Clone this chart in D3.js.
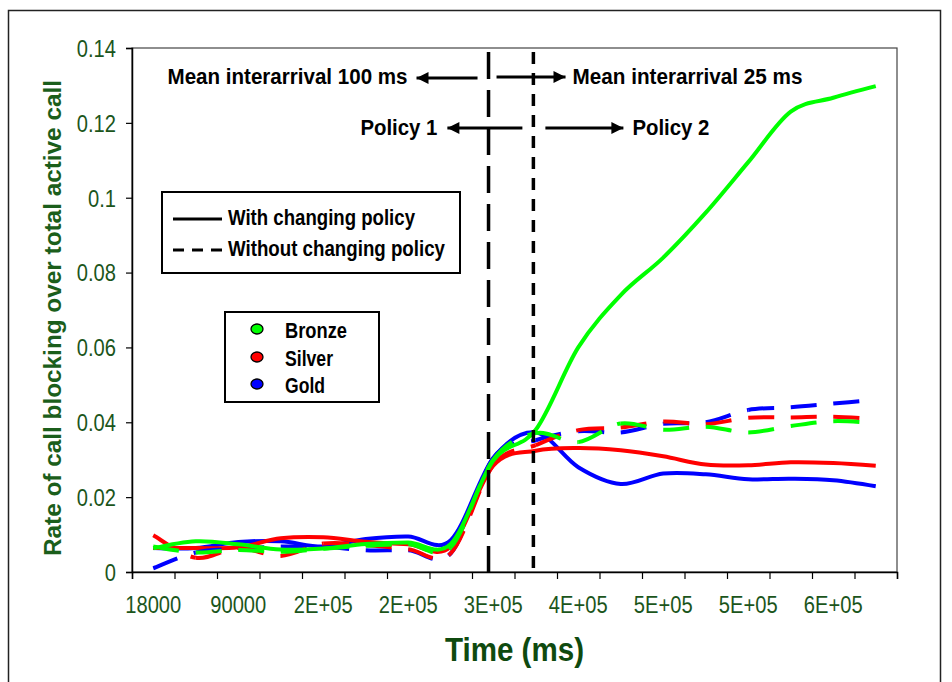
<!DOCTYPE html>
<html><head><meta charset="utf-8">
<script src="https://cdn.jsdelivr.net/npm/d3@7/dist/d3.min.js"></script>
<style>body{margin:0;background:#fff} svg{display:block}</style>
</head><body>
<svg id="c" width="952" height="682"></svg>
<script>
// ---------- data ----------
const times = [18000, 54000, 90000, 126000, 162000, 198000, 234000, 270000, 306000,
               342000, 378000, 414000, 450000, 486000, 522000, 558000, 594000, 630000];
const xTickLabels = ["18000","","90000","","2E+05","","2E+05","","3E+05","","4E+05","","5E+05","","5E+05","","6E+05",""];
const yTicks = [0, 0.02, 0.04, 0.06, 0.08, 0.1, 0.12, 0.14];

const bronzeWith    = [0.0063,0.0082,0.0074,0.0060,0.0063,0.0075,0.0079,0.0075,0.0298,0.0380,0.0600,0.0740,0.0840,0.0960,0.1095,0.1230,0.1267,0.1298];
const silverWith    = [0.0064,0.0064,0.0066,0.0090,0.0093,0.0081,0.0074,0.0068,0.0284,0.0324,0.0331,0.0325,0.0309,0.0287,0.0285,0.0293,0.0291,0.0284];
const goldWith      = [0.0064,0.0064,0.0080,0.0082,0.0068,0.0088,0.0095,0.0085,0.0304,0.0373,0.0280,0.0235,0.0263,0.0261,0.0248,0.0249,0.0245,0.0229];
const bronzeWithout = [0.0068,0.0052,0.0059,0.0054,0.0062,0.0070,0.0074,0.0066,0.0300,0.0371,0.0347,0.0397,0.0380,0.0388,0.0373,0.0390,0.0403,0.0398];
const silverWithout = [0.0098,0.0038,0.0064,0.0043,0.0076,0.0072,0.0061,0.0050,0.0286,0.0339,0.0379,0.0386,0.0402,0.0395,0.0412,0.0413,0.0415,0.0409];
const goldWithout   = [0.0010,0.0052,0.0062,0.0068,0.0068,0.0058,0.0058,0.0050,0.0305,0.0352,0.0376,0.0373,0.0396,0.0400,0.0433,0.0440,0.0450,0.0460];

const classNames  = ["Bronze", "Silver", "Gold"];
const classColors = ["#00ff00", "#ff0000", "#0000ff"];
const policyNames = ["With changing policy", "Without changing policy"];
const markerTimes = [302000, 340000];   // policy / arrival-rate change markers

// ---------- layout ----------
const svg = d3.select("#c");
const plot = {l: 132, t: 48, r: 897, b: 572};
const axisGreen = "#1b551b";
const FONT = "'Liberation Sans Narrow','Arial Narrow','Liberation Sans',Arial,sans-serif";

svg.append("rect").attr("x", 8.5).attr("y", 10.5).attr("width", 932).attr("height", 700)
   .attr("fill", "#fff").attr("stroke", "#222").attr("stroke-width", 1.5);

const band = d3.scaleBand().domain(times).range([plot.l, plot.r]).padding(0);
const bw = band.bandwidth();
const x = d3.scaleLinear().domain([times[0], times[times.length-1]])
            .range([plot.l + bw/2, plot.r - bw/2]);
const y = d3.scaleLinear().domain([0, 0.14]).range([plot.b, plot.t]);

// plot frame
svg.append("rect").attr("x", plot.l).attr("y", plot.t)
   .attr("width", plot.r - plot.l).attr("height", plot.b - plot.t)
   .attr("fill", "none").attr("stroke", "#444").attr("stroke-width", 1.2);

function fitText(sel, w) {
  sel.attr("textLength", w).attr("lengthAdjust", "spacingAndGlyphs");
}

// y axis
const gy = svg.append("g").attr("transform", `translate(${plot.l},0)`)
  .call(d3.axisLeft(y).tickValues(yTicks).tickSize(6).tickPadding(10)
        .tickFormat(d => d3.format(".2~f")(d)));
gy.select(".domain").attr("stroke", "#000").attr("stroke-width", 1.5);
gy.selectAll(".tick line").attr("stroke", "#000").attr("stroke-width", 1.2);
gy.selectAll(".tick text").attr("font-family", FONT).attr("font-size", 24)
  .attr("fill", axisGreen).attr("dy", "0.35em");

// x axis: tick marks at category boundaries
const edge = d3.scaleLinear().domain([0, times.length]).range([plot.l, plot.r]);
const gxT = svg.append("g").attr("transform", `translate(0,${plot.b})`)
  .call(d3.axisBottom(edge).tickValues(d3.range(times.length + 1)).tickSize(7).tickFormat(""));
gxT.select(".domain").attr("stroke", "#000").attr("stroke-width", 1.5);
gxT.selectAll(".tick line").attr("stroke", "#000").attr("stroke-width", 1.2);
// labels centred on categories
const gxL = svg.append("g").attr("transform", `translate(0,${plot.b})`)
  .call(d3.axisBottom(band).tickSize(0).tickPadding(24).tickFormat((d, i) => xTickLabels[i]));
gxL.select(".domain").remove();
gxL.selectAll(".tick text").attr("font-family", FONT).attr("font-size", 24)
  .attr("fill", axisGreen);

// normalise tick label widths to the reference proportions (narrow font)
(function() {
  const all = svg.selectAll(".tick text").filter(function(){ return this.textContent.length; });
  const ref = gxL.selectAll(".tick text").filter(function(){ return this.textContent === "18000"; }).node();
  const k = 56 / ref.getComputedTextLength();
  all.each(function() { const w = this.getComputedTextLength(); d3.select(this).attr("textLength", w * k).attr("lengthAdjust", "spacingAndGlyphs"); });
})();

// axis titles
svg.append("text").attr("x", (plot.l + plot.r) / 2).attr("y", 661)
  .attr("text-anchor", "middle").attr("font-family", FONT).attr("font-weight", "bold")
  .attr("font-size", 34).attr("fill", "#0f4a0f").text("Time (ms)").call(fitText, 139);
svg.append("text").attr("transform", "translate(60.5,318) rotate(-90)")
  .attr("text-anchor", "middle").attr("font-family", FONT).attr("font-weight", "bold")
  .attr("font-size", 24).attr("fill", "#1b5e1b")
  .text("Rate of call blocking over total active call").call(fitText, 476);

// ---------- series ----------
function pts(vals) { return vals.map((v, i) => [x(times[i]), y(v)]); }
const smooth = d3.line().curve(d3.curveCardinal.tension(0));

function segmentPaths(vals) {
  const P = pts(vals), n = P.length, k = 1/6, out = [];
  for (let i = 0; i < n - 1; i++) {
    const p0 = P[Math.max(i-1,0)], p1 = P[i], p2 = P[i+1], p3 = P[Math.min(i+2,n-1)];
    const p = d3.path();
    p.moveTo(p1[0], p1[1]);
    p.bezierCurveTo(p1[0] + k*(p2[0]-p0[0]), p1[1] + k*(p2[1]-p0[1]),
                    p2[0] - k*(p3[0]-p1[0]), p2[1] - k*(p3[1]-p1[1]),
                    p2[0], p2[1]);
    out.push(p.toString());
  }
  return out;
}

const dashedSeries = [
  {vals: goldWithout,   c: classColors[2]},
  {vals: silverWithout, c: classColors[1]},
  {vals: bronzeWithout, c: classColors[0]}
];
const solidSeries = [
  {vals: goldWith,   c: classColors[2]},
  {vals: silverWith, c: classColors[1]},
  {vals: bronzeWith, c: classColors[0]}
];

const gLines = svg.append("g");
solidSeries.slice(0, 2).forEach(s => {
  gLines.append("path").attr("d", smooth(pts(s.vals))).attr("fill", "none")
    .attr("stroke", s.c).attr("stroke-width", 4).attr("stroke-linejoin", "round");
});
dashedSeries.forEach(s => {
  gLines.append("g").selectAll("path").data(segmentPaths(s.vals)).join("path")
    .attr("d", d => d).attr("fill", "none").attr("stroke", s.c)
    .attr("stroke-width", 4).attr("stroke-dasharray", "26,17");
});
solidSeries.slice(2).forEach(s => {
  gLines.append("path").attr("d", smooth(pts(s.vals))).attr("fill", "none")
    .attr("stroke", s.c).attr("stroke-width", 4).attr("stroke-linejoin", "round");
});

// ---------- vertical markers ----------
const mx = markerTimes.map(t => x(t));
svg.append("line").attr("x1", mx[0]).attr("x2", mx[0]).attr("y1", 52).attr("y2", plot.b)
  .attr("stroke", "#000").attr("stroke-width", 3.5).attr("stroke-dasharray", "27,11");
svg.append("line").attr("x1", mx[1]).attr("x2", mx[1]).attr("y1", 52).attr("y2", plot.b)
  .attr("stroke", "#000").attr("stroke-width", 3.5).attr("stroke-dasharray", "12,9");

// arrows
const defs = svg.append("defs");
defs.append("marker").attr("id", "ah").attr("viewBox", "0 0 10 10").attr("refX", 10).attr("refY", 5)
  .attr("markerWidth", 15).attr("markerHeight", 12).attr("markerUnits", "userSpaceOnUse")
  .attr("orient", "auto").append("path").attr("d", "M0,0L10,5L0,10z").attr("fill", "#000");

const arrows = [
  {x1: mx[0] - 11, x2: mx[0] - 72, y: 78},
  {x1: mx[0] + 8,  x2: mx[0] + 77, y: 77},
  {x1: mx[1] - 11, x2: mx[1] - 86, y: 128},
  {x1: mx[1] + 12, x2: mx[1] + 90, y: 128}
];
svg.append("g").selectAll("line").data(arrows).join("line")
  .attr("x1", d => d.x1).attr("x2", d => d.x2).attr("y1", d => d.y).attr("y2", d => d.y)
  .attr("stroke", "#000").attr("stroke-width", 3).attr("marker-end", "url(#ah)");

const notes = [
  {t: "Mean interarrival 100 ms", x: mx[0] - 81, y: 84, a: "end", w: 240},
  {t: "Mean interarrival 25 ms",  x: mx[0] + 84, y: 84, a: "start", w: 230},
  {t: "Policy 1", x: mx[1] - 96, y: 135, a: "end", w: 77},
  {t: "Policy 2", x: mx[1] + 99, y: 135, a: "start", w: 77}
];
svg.append("g").selectAll("text").data(notes).join("text")
  .attr("x", d => d.x).attr("y", d => d.y).attr("text-anchor", d => d.a)
  .attr("font-family", FONT).attr("font-weight", "bold").attr("font-size", 22).attr("fill", "#000")
  .text(d => d.t).each(function(d) { d3.select(this).call(fitText, d.w); });

// ---------- legend 1 (line style) ----------
const lg1 = svg.append("g");
lg1.append("rect").attr("x", 162).attr("y", 192).attr("width", 298).attr("height", 81)
  .attr("fill", "#fff").attr("stroke", "#000").attr("stroke-width", 2);
const lgRows = [{y: 219, dash: null, w: 187}, {y: 250, dash: "11,8", w: 217}];
policyNames.forEach((name, i) => {
  const r = lgRows[i];
  lg1.append("line").attr("x1", 173).attr("x2", 222).attr("y1", r.y).attr("y2", r.y)
    .attr("stroke", "#000").attr("stroke-width", 3).attr("stroke-dasharray", r.dash);
  lg1.append("text").attr("x", 228).attr("y", r.y + 6).attr("font-family", FONT)
    .attr("font-weight", "bold").attr("font-size", 22).text(name).call(fitText, r.w);
});

// ---------- legend 2 (class) ----------
const lg2 = svg.append("g");
lg2.append("rect").attr("x", 225).attr("y", 312).attr("width", 154).attr("height", 90)
  .attr("fill", "#fff").attr("stroke", "#000").attr("stroke-width", 2);
const lg2Rows = [{cy: 329, w: 62}, {cy: 357, w: 48}, {cy: 384, w: 40}];
classNames.forEach((name, i) => {
  const r = lg2Rows[i];
  lg2.append("ellipse").attr("cx", 257).attr("cy", r.cy).attr("rx", 6).attr("ry", 5)
    .attr("fill", classColors[i]).attr("stroke", "#000").attr("stroke-width", 1.3);
  lg2.append("text").attr("x", 285).attr("y", r.cy + 9).attr("font-family", FONT)
    .attr("font-weight", "bold").attr("font-size", 22).text(name).call(fitText, r.w);
});
</script>
</body></html>
